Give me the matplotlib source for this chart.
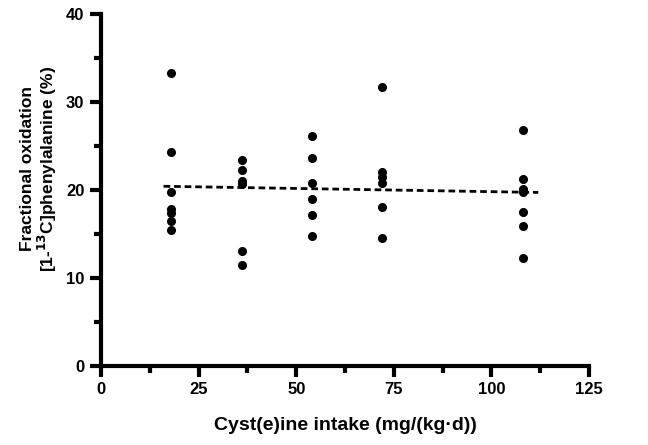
import matplotlib
matplotlib.use("Agg")
import matplotlib.pyplot as plt
from matplotlib.ticker import MultipleLocator

plt.rcParams['font.family'] = ['Liberation Sans', 'DejaVu Sans']

# cyst(e)ine intake levels (mg/(kg·d)) and fractional oxidation (%)
intake = [18] * 7 + [36] * 6 + [54] * 6 + [72] * 6 + [108] * 7
oxidation = [33.3, 24.3, 19.7, 17.8, 17.4, 16.5, 15.4,
             23.4, 22.2, 21.0, 20.7, 13.1, 11.4,
             26.1, 23.6, 20.8, 19.0, 17.1, 14.7,
             31.7, 22.0, 21.4, 20.8, 18.1, 14.5,
             26.8, 21.2, 20.1, 19.8, 17.5, 15.9, 12.2]

# regression line
fit_x = [16, 112]
fit_y = [20.4, 19.7]

fig = plt.figure(figsize=(6.48, 4.45), dpi=100)
ax = fig.add_axes([0.156, 0.178, 0.753, 0.791])

ax.plot(intake, oxidation, 'o', color='black', markersize=5.5, clip_on=False)
ax.plot(fit_x, fit_y, color='black', linestyle=(0, (2.4, 1.4)), linewidth=2)

ax.set_xlim(0, 125)
ax.set_ylim(0, 40)
ax.xaxis.set_major_locator(MultipleLocator(25))
ax.xaxis.set_minor_locator(MultipleLocator(12.5))
ax.yaxis.set_major_locator(MultipleLocator(10))
ax.yaxis.set_minor_locator(MultipleLocator(5))

for s in ['top', 'right']:
    ax.spines[s].set_visible(False)
for s in ['left', 'bottom']:
    ax.spines[s].set_linewidth(3)

ax.tick_params(which='major', length=8, width=3, direction='out', pad=4)
ax.tick_params(which='minor', length=5, width=3, direction='out')
for lab in ax.get_xticklabels() + ax.get_yticklabels():
    lab.set_fontsize(12)
    lab.set_fontweight('bold')

ax.set_xlabel('Cyst(e)ine intake (mg/(kg\u00b7d))', fontsize=14, fontweight='bold', labelpad=14)
ax.set_ylabel('Fractional oxidation\n[1-$\\mathbf{^{13}}$C]phenylalanine (%)',
              fontsize=12.5, fontweight='bold', linespacing=1.05)
ax.yaxis.set_label_coords(-0.087, 0.56)

fig.savefig('out.png', dpi=100)
